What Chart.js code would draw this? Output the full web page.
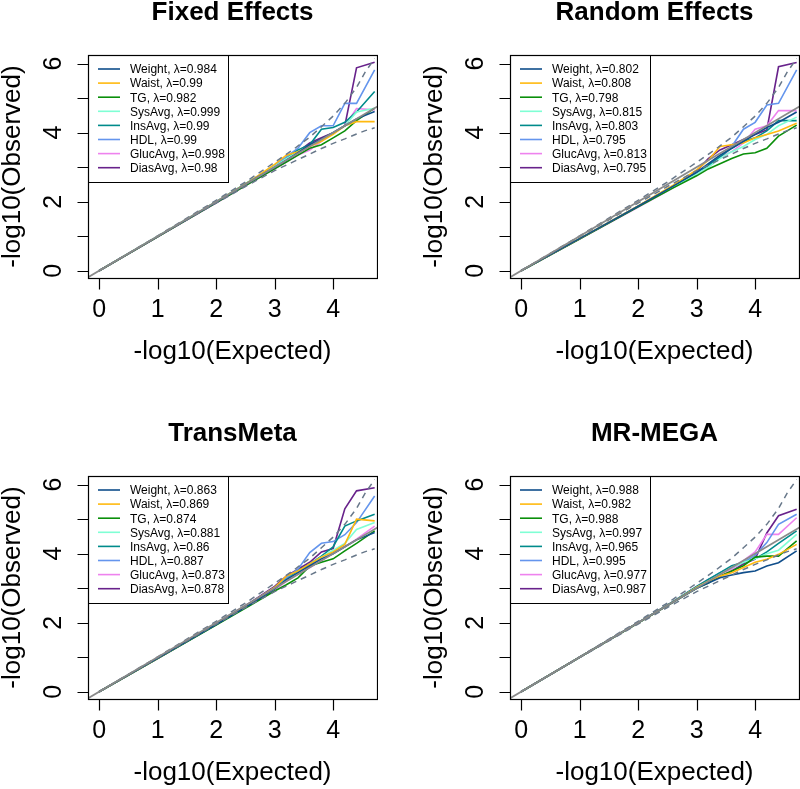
<!DOCTYPE html>
<html>
<head>
<meta charset="utf-8">
<script src="https://cdn.jsdelivr.net/npm/chart.js@4.4.0/dist/chart.umd.min.js"></script>
<style>
  html, body { margin: 0; padding: 0; background: #fff; overflow: hidden; }
  #wrap { position: relative; width: 800px; height: 789px; }
  #wrap canvas { position: absolute; }
</style>
</head>
<body>
<div id="wrap">
  <canvas id="p0" width="378" height="421" style="left:0px;top:0px"></canvas>
  <canvas id="p1" width="378" height="421" style="left:422px;top:0px"></canvas>
  <canvas id="p2" width="378" height="368" style="left:0px;top:421px"></canvas>
  <canvas id="p3" width="378" height="368" style="left:422px;top:421px"></canvas>
</div>
<script>
// traits and colours
var traits = ['Weight', 'Waist', 'TG', 'SysAvg', 'InsAvg', 'HDL', 'GlucAvg', 'DiasAvg'];
var traitColors = ['#104E8B', '#FFB90F', '#0A8F0A', '#7FFFD4', '#008B8B', '#6495ED', '#EE82EE', '#68228B'];
var panelTitles = ['Fixed Effects', 'Random Effects', 'TransMeta', 'MR-MEGA'];

var lambdaFixed  = ['0.984', '0.99', '0.982', '0.999', '0.99', '0.99', '0.998', '0.98'];
var lambdaRandom = ['0.802', '0.808', '0.798', '0.815', '0.803', '0.795', '0.813', '0.795'];
var lambdaTrans  = ['0.863', '0.869', '0.874', '0.881', '0.86', '0.887', '0.873', '0.878'];
var lambdaMega   = ['0.988', '0.982', '0.988', '0.997', '0.965', '0.995', '0.977', '0.987'];

// expected -log10(p) positions
var expX = [0, 1, 2, 2.6, 3.0, 3.2, 3.4, 3.6, 3.8, 4.0, 4.2, 4.4, 4.71];

// observed -log10(p), one row per trait (same order as traits)
var obsFixed = [
  [0, 0.99, 1.98, 2.60, 3.00, 3.20, 3.42, 3.65, 3.82, 4.00, 4.20, 4.40, 4.61],
  [0, 0.99, 1.99, 2.62, 3.08, 3.35, 3.45, 3.60, 3.75, 3.95, 4.20, 4.32, 4.32],
  [0, 0.98, 1.97, 2.56, 2.95, 3.15, 3.35, 3.55, 3.65, 3.85, 4.05, 4.35, 4.71],
  [0, 1.00, 2.00, 2.62, 3.02, 3.25, 3.45, 3.62, 3.78, 4.00, 4.20, 4.60, 4.71],
  [0, 0.99, 1.99, 2.62, 3.00, 3.25, 3.50, 3.65, 4.10, 4.15, 4.30, 4.60, 5.19],
  [0, 0.99, 2.00, 2.62, 3.05, 3.30, 3.55, 4.00, 4.20, 4.20, 4.85, 4.85, 5.82],
  [0, 0.98, 1.96, 2.56, 2.95, 3.15, 3.35, 3.50, 3.75, 4.00, 4.20, 4.70, 4.66],
  [0, 0.98, 1.98, 2.60, 3.00, 3.25, 3.45, 3.70, 3.85, 4.00, 4.20, 5.88, 6.04]
];
var obsRandom = [
  [0, 0.93, 1.87, 2.45, 2.85, 3.10, 3.35, 3.55, 3.75, 3.95, 4.15, 4.30, 4.60],
  [0, 0.93, 1.88, 2.48, 2.92, 3.20, 3.60, 3.65, 3.70, 3.85, 3.95, 4.05, 4.27],
  [0, 0.92, 1.85, 2.40, 2.75, 2.95, 3.10, 3.25, 3.38, 3.42, 3.55, 3.90, 4.22],
  [0, 0.93, 1.86, 2.42, 2.80, 3.00, 3.25, 3.45, 3.60, 3.80, 3.95, 4.20, 4.45],
  [0, 0.93, 1.87, 2.45, 2.85, 3.05, 3.30, 3.55, 3.75, 3.85, 4.05, 4.35, 4.35],
  [0, 0.93, 1.87, 2.46, 2.85, 3.05, 3.30, 3.60, 4.10, 4.30, 4.80, 4.85, 5.82],
  [0, 0.92, 1.84, 2.40, 2.80, 3.00, 3.30, 3.45, 3.70, 4.10, 4.20, 4.64, 4.64],
  [0, 0.93, 1.86, 2.45, 2.88, 3.25, 3.50, 3.65, 3.80, 3.95, 4.08, 5.91, 6.03]
];
var obsTrans = [
  [0, 0.97, 1.95, 2.55, 2.98, 3.25, 3.45, 3.65, 3.85, 4.00, 4.20, 4.40, 4.61],
  [0, 0.97, 1.96, 2.58, 3.02, 3.35, 3.50, 3.70, 3.90, 4.05, 4.27, 5.00, 4.95],
  [0, 0.96, 1.93, 2.52, 2.92, 3.10, 3.30, 3.64, 3.75, 3.85, 4.08, 4.30, 4.66],
  [0, 0.97, 1.95, 2.56, 3.00, 3.25, 3.45, 3.70, 3.90, 4.10, 4.30, 4.70, 4.90],
  [0, 0.97, 1.95, 2.56, 3.00, 3.25, 3.50, 3.70, 3.93, 4.20, 4.80, 4.95, 5.14],
  [0, 0.98, 1.96, 2.58, 3.02, 3.30, 3.55, 4.03, 4.30, 4.35, 4.55, 4.90, 5.67],
  [0, 0.96, 1.94, 2.54, 2.95, 3.20, 3.40, 3.60, 3.80, 4.00, 4.20, 4.42, 4.80],
  [0, 0.97, 1.97, 2.60, 3.05, 3.35, 3.55, 3.75, 4.05, 4.15, 5.30, 5.82, 5.91]
];
var obsMega = [
  [0, 1.00, 2.00, 2.60, 3.00, 3.15, 3.30, 3.38, 3.45, 3.50, 3.64, 3.74, 4.08],
  [0, 1.00, 2.00, 2.60, 3.02, 3.20, 3.35, 3.45, 3.60, 3.75, 3.84, 3.98, 4.27],
  [0, 1.00, 1.99, 2.60, 3.00, 3.15, 3.35, 3.50, 3.65, 3.90, 3.93, 3.93, 4.37],
  [0, 1.00, 2.00, 2.60, 3.02, 3.20, 3.40, 3.60, 3.75, 3.85, 4.00, 4.10, 4.56],
  [0, 1.00, 2.00, 2.62, 3.05, 3.25, 3.45, 3.65, 3.75, 3.85, 4.05, 4.30, 4.66],
  [0, 1.00, 2.00, 2.60, 3.02, 3.25, 3.45, 3.60, 3.75, 3.95, 4.32, 4.85, 5.14],
  [0, 1.00, 2.00, 2.62, 3.05, 3.25, 3.40, 3.55, 3.80, 4.05, 4.56, 4.56, 5.04],
  [0, 1.00, 2.00, 2.60, 3.02, 3.20, 3.35, 3.50, 3.70, 3.84, 4.60, 5.10, 5.29]
];

// 95% band (dashed) and y=x reference
var ciX     = [0, 1, 2, 2.5, 3, 3.3, 3.6, 3.8, 4.0, 4.2, 4.4, 4.55, 4.71];
var ciUpper = [0, 1.01, 2.04, 2.57, 3.14, 3.49, 3.87, 4.17, 4.48, 4.85, 5.31, 5.76, 6.15];
var ciLower = [0, 0.99, 1.96, 2.44, 2.90, 3.14, 3.38, 3.54, 3.69, 3.82, 3.96, 4.06, 4.14];
var diagX = [-0.4, 4.9];

var xTicks = [0, 1, 2, 3, 4];
var yTicks = [0, 1, 2, 3, 4, 5, 6];
var yTickLabels = ['0', '', '2', '', '4', '', '6'];

var FONT = '"Liberation Sans", Arial, Helvetica, sans-serif';

function pts(xs, ys) {
    var out = [];
    for (var i = 0; i < xs.length; i++) out.push({x: xs[i], y: ys[i]});
    return out;
}

var rPlot = {
    id: 'rPlot',
    afterDraw: function(chart, args, opts) {
        var ctx = chart.ctx, a = chart.chartArea;
        var xs = chart.scales.x, ys = chart.scales.y;
        ctx.save();
        ctx.strokeStyle = '#000';
        ctx.fillStyle = '#000';
        ctx.lineWidth = 1;

        // legend
        var lx = Math.round(a.left) + 0.5, ly = Math.round(a.top) + 0.5;
        ctx.fillStyle = '#fff';
        ctx.fillRect(lx, ly, 140, 127);
        ctx.strokeRect(lx, ly, 140, 127);
        ctx.font = '12px ' + FONT;
        ctx.textBaseline = 'middle';
        ctx.textAlign = 'left';
        for (var i = 0; i < traits.length; i++) {
            var ds = chart.data.datasets[i];
            var ry = a.top + 14 + i * 14.1;
            ctx.strokeStyle = ds.borderColor;
            ctx.lineWidth = 1.6;
            ctx.beginPath();
            ctx.moveTo(a.left + 10, ry);
            ctx.lineTo(a.left + 32, ry);
            ctx.stroke();
            ctx.fillStyle = '#000';
            ctx.fillText(ds.label, a.left + 42, ry + 1);
        }

        // box
        ctx.strokeStyle = '#000';
        ctx.lineWidth = 1.2;
        ctx.strokeRect(Math.round(a.left) + 0.5, Math.round(a.top) + 0.5,
            Math.round(a.right - a.left), Math.round(a.bottom - a.top));

        // x axis
        ctx.font = '25px ' + FONT;
        ctx.textAlign = 'center';
        ctx.textBaseline = 'middle';
        var b = Math.round(a.bottom) + 0.5;
        ctx.beginPath();
        xTicks.forEach(function(t) {
            var px = Math.round(xs.getPixelForValue(t)) + 0.5;
            ctx.moveTo(px, b);
            ctx.lineTo(px, b + 11);
        });
        ctx.stroke();
        xTicks.forEach(function(t) {
            ctx.fillText(String(t), xs.getPixelForValue(t), a.bottom + 32);
        });
        ctx.font = '26px ' + FONT;
        ctx.fillText('-log10(Expected)', (a.left + a.right) / 2, a.bottom + 74);

        // y axis
        var l = Math.round(a.left) + 0.5;
        ctx.beginPath();
        yTicks.forEach(function(t) {
            var py = Math.round(ys.getPixelForValue(t)) + 0.5;
            ctx.moveTo(l, py);
            ctx.lineTo(l - 11, py);
        });
        ctx.stroke();
        ctx.font = '25px ' + FONT;
        yTicks.forEach(function(t, k) {
            if (!yTickLabels[k]) return;
            ctx.save();
            ctx.translate(a.left - 34, ys.getPixelForValue(t));
            ctx.rotate(-Math.PI / 2);
            ctx.fillText(yTickLabels[k], 0, 0);
            ctx.restore();
        });
        ctx.save();
        ctx.font = '26px ' + FONT;
        ctx.translate(a.left - 75, (a.top + a.bottom) / 2);
        ctx.rotate(-Math.PI / 2);
        ctx.fillText('-log10(Observed)', 0, 0);
        ctx.restore();

        // title
        ctx.font = 'bold 26px ' + FONT;
        ctx.fillText(opts.title, (a.left + a.right) / 2, 13);
        ctx.restore();
    }
};

function makePanel(id, title, obs, lambdas) {
    var canvas = document.getElementById(id);
    var h = canvas.height;
    var datasets = [];
    for (var i = 0; i < traits.length; i++) {
        datasets.push({
            label: traits[i] + ', \u03BB=' + lambdas[i],
            data: pts(expX, obs[i]),
            borderColor: traitColors[i],
            borderWidth: 1.6,
            pointRadius: 0,
            tension: 0,
            order: 5
        });
    }
    datasets.push({ label: 'upper', data: pts(ciX, ciUpper), borderColor: '#68788a',
        borderWidth: 1.5, borderDash: [6, 5], pointRadius: 0, order: 2 });
    datasets.push({ label: 'lower', data: pts(ciX, ciLower), borderColor: '#68788a',
        borderWidth: 1.5, borderDash: [6, 5], pointRadius: 0, order: 2 });
    datasets.push({ label: 'diag', data: pts(diagX, diagX), borderColor: '#8a8a8a',
        borderWidth: 1.8, pointRadius: 0, order: 1 });

    return new Chart(canvas.getContext('2d'), {
        type: 'line',
        data: { datasets: datasets },
        options: {
            responsive: false,
            animation: false,
            devicePixelRatio: 1,
            layout: { padding: { left: 88, top: 55, right: 1, bottom: h - 278 } },
            scales: {
                x: { type: 'linear', min: -0.19, max: 4.75, display: false },
                y: { type: 'linear', min: -0.21, max: 6.25, display: false }
            },
            plugins: {
                legend: { display: false },
                tooltip: { enabled: false },
                rPlot: { title: title }
            }
        },
        plugins: [rPlot]
    });
}

makePanel('p0', panelTitles[0], obsFixed, lambdaFixed);
makePanel('p1', panelTitles[1], obsRandom, lambdaRandom);
makePanel('p2', panelTitles[2], obsTrans, lambdaTrans);
makePanel('p3', panelTitles[3], obsMega, lambdaMega);
</script>
</body>
</html>
